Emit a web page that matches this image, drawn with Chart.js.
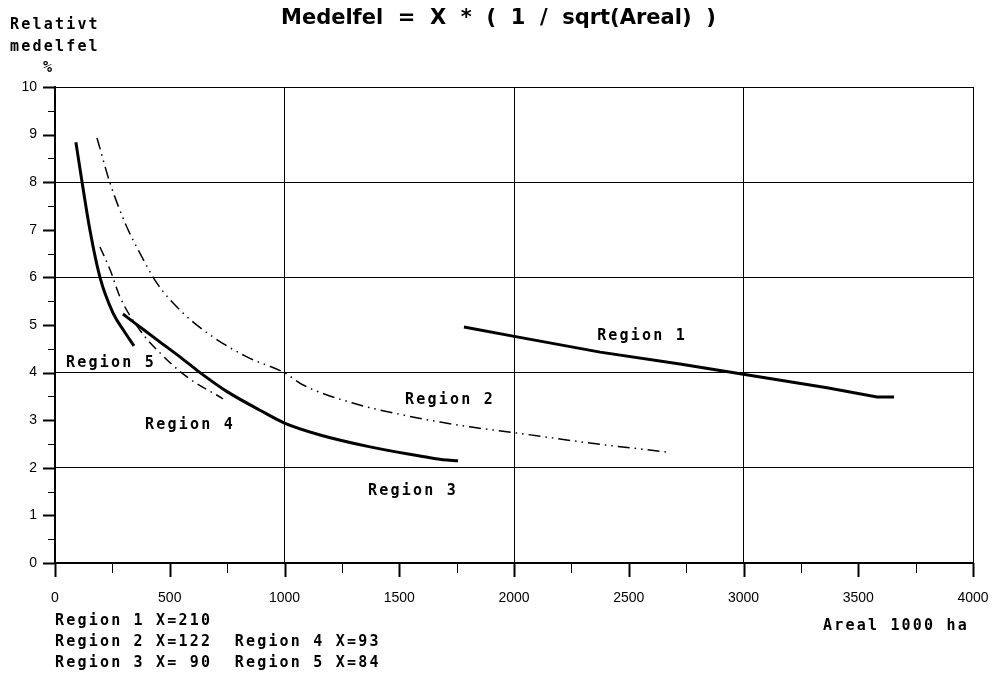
<!DOCTYPE html>
<html lang="sv">
<head>
    <meta charset="UTF-8">
    <title>Medelfel</title>
    <script src="https://cdn.jsdelivr.net/npm/chart.js"></script>
    <style>
        body { margin: 0; background: #fff; }
        #wrap { width: 993px; height: 675px; }
    </style>
</head>
<body>
    <div id="wrap"><canvas id="chart" width="993" height="675"></canvas></div>

    <script>
        // Values (Areal in 1000 ha, medelfel in %)
        const region1X = [1782, 2013, 2375, 2723, 3006, 3364, 3582, 3656];
        const region1Y = [4.96, 4.75, 4.43, 4.18, 3.96, 3.68, 3.49, 3.49];

        const region2X = [183, 240, 313, 370, 444, 558, 688, 836, 1002, 1081, 1298, 1516, 1678, 1808, 2013, 2331, 2667];
        const region2Y = [8.93, 7.98, 7.06, 6.51, 5.88, 5.25, 4.75, 4.33, 3.99, 3.74, 3.36, 3.11, 2.96, 2.86, 2.73, 2.52, 2.33];

        const region3X = [296, 370, 458, 550, 632, 750, 893, 1000, 1155, 1373, 1590, 1690, 1756];
        const region3Y = [5.23, 4.96, 4.64, 4.31, 4.0, 3.6, 3.21, 2.94, 2.69, 2.44, 2.25, 2.17, 2.15];

        const region4X = [196, 240, 283, 370, 458, 575, 732];
        const region4Y = [6.64, 6.16, 5.59, 4.89, 4.41, 3.91, 3.45];

        const region5X = [91, 118, 152, 196, 253, 300, 344];
        const region5Y = [8.84, 8.0, 7.0, 6.0, 5.25, 4.88, 4.56];

        const xTickLabels = [0, 500, 1000, 1500, 2000, 2500, 3000, 3500, 4000];
        const yTickLabels = [0, 1, 2, 3, 4, 5, 6, 7, 8, 9, 10];

        const regionNames = ['Region 1', 'Region 2', 'Region 3', 'Region 4', 'Region 5'];
        const regionLabelX = [2558, 1721, 1560, 588, 244];
        const regionLabelY = [4.77, 3.42, 1.51, 2.9, 4.2];

        const footLines = [
            'Region 1 X=210',
            'Region 2 X=122  Region 4 X=93',
            'Region 3 X= 90  Region 5 X=84'
        ];

        const pts = (xs, ys) => xs.map((x, i) => ({ x: x, y: ys[i] }));
        const mono = 'bold 15px "DejaVu Sans Mono"';

        function line(label, xs, ys, width, dash, smooth) {
            return {
                label: label,
                data: pts(xs, ys),
                borderColor: '#000',
                borderWidth: width,
                borderDash: dash,
                pointRadius: 0,
                showLine: true,
                fill: false,
                tension: 0,
                cubicInterpolationMode: smooth ? 'monotone' : 'default'
            };
        }

        // tick marks, region names and the loose texts
        const decorations = {
            id: 'decorations',
            afterDraw(chart) {
                const ctx = chart.ctx;
                const xs = chart.scales.x, ys = chart.scales.y;
                const area = chart.chartArea;
                ctx.save();
                ctx.strokeStyle = '#000';

                for (let v = 0; v <= 10; v += 0.5) {
                    const y = Math.round(ys.getPixelForValue(v)) + 0.5;
                    const len = Number.isInteger(v) ? 12 : 7;
                    ctx.lineWidth = Number.isInteger(v) ? 2 : 1;
                    ctx.beginPath();
                    ctx.moveTo(area.left - len, y);
                    ctx.lineTo(area.left, y);
                    ctx.stroke();
                }
                for (let v = 0; v <= 4000; v += 250) {
                    const x = Math.round(xs.getPixelForValue(v)) + 0.5;
                    const major = v % 500 === 0;
                    ctx.lineWidth = major ? 2 : 1;
                    ctx.beginPath();
                    ctx.moveTo(x, area.bottom);
                    ctx.lineTo(x, area.bottom + (major ? 14 : 10));
                    ctx.stroke();
                }

                ctx.fillStyle = '#000';
                ctx.font = mono;
                ctx.letterSpacing = '2.2px';
                ctx.textBaseline = 'middle';
                ctx.textAlign = 'center';
                regionNames.forEach((name, i) => {
                    ctx.fillText(name, xs.getPixelForValue(regionLabelX[i]), ys.getPixelForValue(regionLabelY[i]));
                });

                ctx.textAlign = 'left';
                ctx.fillText('Relativt', 10, 25);
                ctx.fillText('medelfel', 10, 47);
                ctx.fillText('%', 43, 68);
                ctx.fillText('Areal 1000 ha', 823, 626);
                footLines.forEach((t, i) => ctx.fillText(t, 55, 621 + i * 21));

                ctx.letterSpacing = '0px';
                ctx.font = 'bold 21px "DejaVu Sans"';
                ctx.fillText('Medelfel  =  X  *  (  1  /  sqrt(Areal)  )', 281, 19);
                ctx.restore();
            }
        };

        new Chart(document.getElementById('chart'), {
            type: 'scatter',
            data: {
                datasets: [
                    line('Region 1', region1X, region1Y, 3, [], false),
                    line('Region 2', region2X, region2Y, 1.5, [12, 5, 1.5, 5, 1.5, 5], true),
                    line('Region 3', region3X, region3Y, 3, [], true),
                    line('Region 4', region4X, region4Y, 1.5, [10, 5, 1.5, 5], true),
                    line('Region 5', region5X, region5Y, 3, [], true)
                ]
            },
            options: {
                responsive: false,
                animation: false,
                layout: { padding: { top: 87, right: 20, left: 0, bottom: 0 } },
                plugins: { legend: { display: false }, tooltip: { enabled: false } },
                scales: {
                    x: {
                        type: 'linear',
                        min: 0,
                        max: 4000,
                        afterBuildTicks: s => { s.ticks = xTickLabels.map(v => ({ value: v })); },
                        afterFit: s => { s.height = 112; s.paddingLeft = 0; s.paddingRight = 0; },
                        border: { color: '#000', width: 2 },
                        grid: {
                            drawTicks: false,
                            lineWidth: 1,
                            color: c => (c.tick && c.tick.value > 0 && c.tick.value % 1000 === 0) ? '#000' : 'rgba(0,0,0,0)'
                        },
                        ticks: {
                            padding: 27,
                            color: '#000',
                            maxRotation: 0,
                            callback: v => String(v),
                            font: { family: 'Liberation Sans', size: 14 }
                        }
                    },
                    y: {
                        min: 0,
                        max: 10,
                        afterBuildTicks: s => { s.ticks = yTickLabels.map(v => ({ value: v })); },
                        afterFit: s => { s.width = 55; s.paddingTop = 0; s.paddingBottom = 0; },
                        border: { color: '#000', width: 2 },
                        grid: {
                            drawTicks: false,
                            lineWidth: 1,
                            color: c => (c.tick && c.tick.value > 0 && c.tick.value % 2 === 0) ? '#000' : 'rgba(0,0,0,0)'
                        },
                        ticks: {
                            padding: 18,
                            color: '#000',
                            callback: v => String(v),
                            font: { family: 'Liberation Sans', size: 14 }
                        }
                    }
                }
            },
            plugins: [decorations]
        });
    </script>
</body>
</html>
